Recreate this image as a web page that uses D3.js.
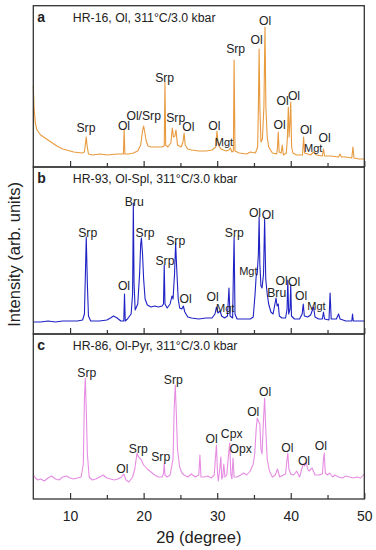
<!DOCTYPE html>
<html>
<head>
<meta charset="utf-8">
<script src="https://cdn.jsdelivr.net/npm/d3@7"></script>
<style>
  html, body { margin: 0; padding: 0; background: #fff; }
  svg { display: block; font-family: "Liberation Sans", Arial, Helvetica, sans-serif; }
</style>
</head>
<body>
<svg id="chart" width="376" height="550"></svg>
<script>
// ---------- data ----------
const xTicks = [10, 20, 30, 40, 50];
const xMinorTicks = [15, 25, 35, 45];
const panelLetters = ["a", "b", "c"];
const panelTitles = [
  "HR-16, Ol, 311°C/3.0 kbar",
  "HR-93, Ol-Spl, 311°C/3.0 kbar",
  "HR-86, Ol-Pyr, 311°C/3.0 kbar"
];
const seriesColors = ["#e89a3e", "#1f22c4", "#e68de3"];

// [2θ, intensity (arb. units)]
const spectrumA = [[5.0,81],[5.1,60],[5.27,44],[5.5,37],[6.0,32],[6.4,30],[7.0,27],[8.2,21],[9.0,18],[10.5,15],[11.6,14],[11.95,15],[12.1,24],[12.2,30],[12.3,22],[12.5,13],[13,12],[14.1,13],[15,12],[16.4,13],[17.25,13],[17.35,38],[17.45,13],[18,13],[18.6,14],[19.2,16],[19.6,22],[19.85,36],[20.0,41],[20.15,35],[20.35,26],[20.6,21],[21,20],[21.8,20],[22.5,20],[22.8,21],[22.9,85],[23.0,22],[23.3,20],[23.7,24],[23.9,39],[24.05,30],[24.25,31],[24.4,37],[24.6,22],[25.1,20],[25.35,25],[25.5,34],[25.65,22],[26.0,18],[26.5,17],[27.5,16],[28.5,16],[29.3,17],[29.8,20],[29.97,36],[30.15,22],[30.5,18],[31.2,16],[31.6,17],[31.8,19],[32.0,15],[32.2,16],[32.3,107],[32.42,16],[33,14],[34,13],[34.5,15],[35.2,14],[35.5,20],[35.6,60],[35.7,118],[35.8,60],[35.95,25],[36.15,28],[36.35,60],[36.5,140],[36.62,60],[36.8,30],[37.0,20],[37.5,14],[38.1,13],[38.2,20],[38.3,35],[38.42,15],[38.7,14],[38.85,22],[39.0,12],[39.4,14],[39.55,30],[39.67,60],[39.78,30],[39.9,45],[40.0,65],[40.12,20],[40.3,14],[40.8,12],[41.6,12],[41.75,30],[41.88,14],[42.3,13],[42.7,12],[43.1,15],[43.5,12],[44.3,11],[44.45,18],[44.6,11],[45.5,11],[46.5,10],[46.7,13],[46.9,10],[47.5,10],[48.3,9],[48.45,20],[48.6,9],[49.3,8],[50,8]];

const spectrumB = [[5.0,12],[6,12],[7,13],[8,12],[9,13],[10,13],[11,13],[11.7,14],[11.95,20],[12.05,50],[12.2,97],[12.35,50],[12.5,18],[12.8,13],[14,13],[15,14],[15.5,16],[15.9,18],[16.4,16],[16.9,13],[17.3,13],[17.4,40],[17.5,13],[17.8,15],[18.3,20],[18.5,40],[18.6,131],[18.7,50],[18.85,24],[19.2,30],[19.45,60],[19.6,90],[19.7,96],[19.85,80],[20.0,55],[20.2,35],[20.5,29],[21,27],[21.5,28],[22,27],[22.5,28],[22.7,30],[22.8,69],[22.9,30],[23.2,26],[23.6,30],[23.85,38],[24.0,35],[24.2,60],[24.35,91],[24.5,65],[24.7,35],[24.9,26],[25.2,25],[25.4,28],[25.6,22],[26.0,17],[26.5,16],[27.5,15],[28.5,16],[29.3,16],[29.7,20],[29.9,27],[30.1,21],[30.4,23],[30.6,18],[31.0,16],[31.4,18],[31.6,46],[31.75,18],[32.1,16],[32.2,60],[32.3,97],[32.42,20],[32.7,15],[33.5,15],[34.5,15],[34.9,17],[35.15,40],[35.3,58],[35.45,61],[35.6,80],[35.7,117],[35.8,70],[35.95,48],[36.1,46],[36.3,60],[36.45,115],[36.6,55],[36.8,40],[37.0,30],[37.3,22],[37.6,20],[37.85,30],[38.0,36],[38.15,28],[38.3,30],[38.45,18],[38.8,16],[39.3,16],[39.5,25],[39.6,54],[39.72,20],[39.9,25],[40.0,49],[40.1,18],[40.5,15],[41.2,15],[41.55,20],[41.7,30],[41.85,18],[42.3,17],[42.7,19],[43.0,25],[43.1,27],[43.3,17],[43.8,15],[44.3,15],[44.45,22],[44.6,15],[45.2,14],[45.35,41],[45.5,15],[46.2,15],[46.5,20],[46.7,15],[47.5,13],[48.3,13],[48.4,20],[48.5,13],[49.3,13],[50,13]];

const spectrumC = [[5.0,24],[5.3,21],[5.6,19],[6.0,20],[6.5,18],[7.0,21],[7.5,23],[8.0,20],[8.5,19],[9.0,22],[9.5,23],[10.0,21],[10.5,20],[11.0,21],[11.5,22],[11.8,35],[11.95,100],[12.07,121],[12.2,90],[12.35,45],[12.6,22],[13,19],[13.5,20],[14,22],[14.5,24],[15,21],[15.5,20],[16,19],[16.5,20],[17,22],[17.3,25],[17.6,19],[18,17],[18.5,22],[18.8,30],[19.1,46],[19.3,42],[19.6,40],[20,34],[20.5,30],[21,27],[21.5,24],[22,22],[22.5,22],[22.7,25],[22.8,36],[22.9,24],[23.2,22],[23.6,24],[24.0,40],[24.15,90],[24.3,114],[24.45,85],[24.6,50],[24.9,32],[25.2,26],[25.5,24],[26,22],[26.5,25],[27,22],[27.5,24],[27.65,44],[27.8,22],[28.2,22],[28.7,23],[29.2,21],[29.6,24],[29.75,40],[29.9,54],[30.05,25],[30.15,18],[30.35,30],[30.5,42],[30.62,20],[30.75,22],[30.9,35],[31.05,22],[31.3,24],[31.55,45],[31.7,56],[31.85,25],[32.0,20],[32.15,41],[32.3,22],[32.7,22],[33.2,24],[33.6,26],[34.0,24],[34.5,28],[34.9,35],[35.1,45],[35.3,70],[35.45,81],[35.6,78],[35.8,75],[35.95,50],[36.1,45],[36.3,80],[36.45,101],[36.6,70],[36.8,40],[37.1,28],[37.5,22],[37.9,24],[38.2,30],[38.5,22],[39.0,24],[39.3,25],[39.5,40],[39.6,46],[39.75,30],[40.0,25],[40.4,24],[40.8,28],[41.2,22],[41.5,30],[41.7,35],[41.9,33],[42.1,37],[42.3,30],[42.5,28],[42.9,31],[43.3,24],[43.8,24],[44.3,25],[44.45,40],[44.55,46],[44.7,26],[45.0,24],[45.3,26],[45.7,22],[46.0,24],[46.5,22],[47,21],[47.5,23],[48,22],[48.5,21],[49,22],[49.5,21],[50,25]];

// phase labels: [text, 2θ, intensity, small]
const labelsA = [["Srp",12.16,35.5,0],["Ol",17.33,37,0],["Ol/Srp",20.01,47,0],["Srp",22.86,85,0],["Srp",24.36,45.5,0],["Ol",26.07,36.5,0],["Ol",29.61,37.5,0],["Mgt",30.92,21.5,1],["Srp",32.51,114.5,0],["Ol",35.37,123,0],["Ol",36.5,142,0],["Ol",38.9,62,0],["Ol",40.44,67,0],["Ol",38.5,38.5,0],["Ol",42.07,33,0],["Mgt",43.05,15,1],["Ol",44.6,25.5,0]];
const labelsB = [["Srp",12.4,97.5,0],["Bru",18.73,128.5,0],["Ol",17.33,44,0],["Srp",20.2,97.5,0],["Srp",24.36,89,0],["Srp",22.9,69.5,0],["Ol",25.72,31,0],["Ol",29.39,33.5,0],["Mgt",31.1,22.5,1],["Srp",32.32,97.5,0],["Mgt",34.23,59.5,1],["Ol",35.14,116.7,0],["Ol",36.9,115,0],["Bru",38.09,37,0],["Ol",38.77,49.5,0],["Ol",40.47,48,0],["Ol",41.4,34.5,0],["Mgt",43.5,24,1]];
const labelsC = [["Srp",12.27,122.5,0],["Srp",24.03,115,0],["Ol",17.1,26,0],["Srp",19.27,46,0],["Srp",22.32,38.5,0],["Ol",29.25,56,0],["Cpx",31.97,61.5,0],["Opx",33.2,46,0],["Ol",34.9,83,0],["Ol",36.5,103,0],["Ol",39.55,47,0],["Ol",41.8,34.5,0],["Ol",44.1,49,0]];

const xLabel = "2θ (degree)";
const yLabel = "Intensity (arb. units)";

// ---------- layout ----------
const W = 376, H = 550;
const plotLeft = 33.3, plotRight = 364.3;
const panelTop = [5.7, 167, 334];
const panelBottom = [167, 334, 499];
const spectra = [spectrumA, spectrumB, spectrumC];
const labelSets = [labelsA, labelsB, labelsC];

const svg = d3.select("#chart");
const x = d3.scaleLinear().domain([5, 50]).range([plotLeft, plotRight]);

spectra.forEach((data, i) => {
  const top = panelTop[i], bottom = panelBottom[i];
  const y = d3.scaleLinear().domain([0, bottom - top]).range([bottom, top]);
  const g = svg.append("g");

  const line = d3.line().x(d => x(d[0])).y(d => y(d[1]));
  g.append("path")
    .datum(data)
    .attr("d", line)
    .attr("fill", "none")
    .attr("stroke", seriesColors[i])
    .attr("stroke-width", 1.1)
    .attr("stroke-linejoin", "round");

  // inward ticks on the bottom edge of each panel
  const axis = d3.axisBottom(x).tickValues(xTicks).tickSizeInner(-6).tickSizeOuter(0)
    .tickFormat(i === 2 ? d3.format("d") : () => "");
  const ax = g.append("g").attr("transform", `translate(0,${bottom})`).call(axis);
  ax.select(".domain").remove();
  ax.selectAll(".tick line").attr("stroke", "#333").attr("stroke-width", 1.2);
  ax.selectAll(".tick text").attr("font-size", 14).attr("fill", "#222")
    .attr("y", 12).attr("dy", "0.71em")
    .style("font-family", '"Liberation Sans", Arial, sans-serif');
  const minor = d3.axisBottom(x).tickValues(xMinorTicks).tickSizeInner(-4).tickSizeOuter(0).tickFormat(() => "");
  const mx = g.append("g").attr("transform", `translate(0,${bottom})`).call(minor);
  mx.select(".domain").remove();
  mx.selectAll(".tick line").attr("stroke", "#333").attr("stroke-width", 1.2);

  // frame
  g.append("rect")
    .attr("x", plotLeft).attr("y", top)
    .attr("width", plotRight - plotLeft).attr("height", bottom - top)
    .attr("fill", "none").attr("stroke", "#333").attr("stroke-width", 1.3);

  // panel letter + title
  g.append("text").attr("x", plotLeft + 4).attr("y", top + 16)
    .attr("font-size", 14).attr("font-weight", "bold").attr("fill", "#222")
    .text(panelLetters[i]);
  g.append("text").attr("x", plotLeft + 39.5).attr("y", top + 16)
    .attr("font-size", 12.3).attr("fill", "#222")
    .text(panelTitles[i]);

  // phase labels
  g.selectAll("text.phase").data(labelSets[i]).enter().append("text")
    .attr("class", "phase")
    .attr("x", d => x(d[1]))
    .attr("y", d => y(d[2]))
    .attr("text-anchor", "middle")
    .attr("font-size", d => d[3] ? 11 : 12.2)
    .attr("fill", "#222")
    .text(d => d[0]);
});

// axis titles
svg.append("text")
  .attr("x", (plotLeft + plotRight) / 2).attr("y", 542.7)
  .attr("text-anchor", "middle").attr("font-size", 16.5).attr("fill", "#222")
  .text(xLabel);
svg.append("text")
  .attr("transform", `translate(19.5,${(panelTop[0] + panelBottom[2]) / 2 + 2}) rotate(-90)`)
  .attr("text-anchor", "middle").attr("font-size", 16.5).attr("fill", "#222")
  .text(yLabel);
</script>
</body>
</html>
